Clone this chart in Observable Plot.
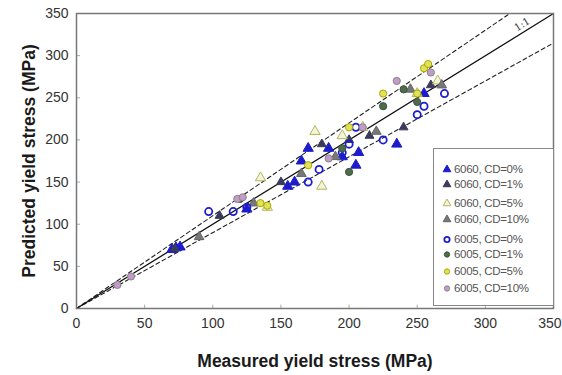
<!DOCTYPE html>
<html><head><meta charset="utf-8">
<script src="https://cdn.jsdelivr.net/npm/d3@7"></script>
<script src="https://cdn.jsdelivr.net/npm/@observablehq/plot@0.6"></script>
<style>
body{margin:0;background:#fff;}
#wrap{position:relative;width:562px;height:375px;overflow:hidden;}
g[aria-label="x-axis label"] text, g[aria-label="y-axis label"] text{font-weight:bold;font-size:17.5px;fill:#1a1a1a;}
#legend{position:absolute;left:433px;top:148px;width:121px;height:158px;border:1px solid #888;background:#fff;box-sizing:border-box;font-family:Arial,"Liberation Sans",sans-serif;font-size:11.5px;color:#555;}
#legend .row{position:absolute;left:8px;height:14px;display:flex;align-items:center;white-space:nowrap;letter-spacing:-0.3px;}
#legend svg{margin-right:2px;}
</style></head>
<body><div id="wrap"><div id="chart"></div><div id="legend"></div></div>
<script>
const seriesNames = ["6060, CD=0%","6060, CD=1%","6060, CD=5%","6060, CD=10%","6005, CD=0%","6005, CD=1%","6005, CD=5%","6005, CD=10%"];
const xTicks = [0,50,100,150,200,250,300,350];
const yTicks = [0,50,100,150,200,250,300,350];
// measured, predicted
const s6060cd0 = [[70,70],[73,72],[76,73],[125,118],[155,145],[160,150],[165,175],[170,190],[185,190],[195,180],[205,170],[207,185],[235,195],[255,255]];
const s6060cd1 = [[72,71],[105,110],[150,150],[180,195],[200,200],[215,205],[240,215],[260,265]];
const s6060cd5 = [[135,155],[140,120],[175,210],[180,145],[195,205],[210,215],[250,255],[265,270]];
const s6060cd10 = [[90,85],[130,125],[165,160],[190,180],[220,210],[245,260],[268,265]];
const s6005cd0 = [[97,115],[115,115],[125,120],[170,150],[178,165],[195,185],[200,195],[205,215],[225,200],[250,230],[255,240],[270,255]];
const s6005cd1 = [[120,130],[195,190],[200,162],[225,240],[240,260],[250,245]];
const s6005cd5 = [[135,125],[140,122],[170,170],[200,215],[225,255],[250,255],[255,285],[258,290]];
const s6005cd10 = [[30,28],[40,38],[118,130],[122,132],[185,178],[210,215],[235,270],[260,280]];
const oneToOne = [[0,0],[350,350]];
const upper10 = [[0,0],[318,350]];
const lower10 = [[0,0],[350,315]];
const lineLabel = [{x:327,y:337,t:"1:1"}];

const styles = [
  {symbol:"triangle", fill:"#1c1ccc", stroke:"#1c1ccc", r:3.8},
  {symbol:"triangle", fill:"#3a3a5a", stroke:"#3a3a5a", r:3.3},
  {symbol:"triangle", fill:"#f4f4d8", stroke:"#b4b460", r:3.8},
  {symbol:"triangle", fill:"#777", stroke:"#666", r:3.6},
  {symbol:"circle", fill:"none", stroke:"#1c1cd0", r:3.6, sw:1.8},
  {symbol:"circle", fill:"#4d6b4d", stroke:"#3e563e", r:3.6},
  {symbol:"circle", fill:"#e2e25a", stroke:"#a8a800", r:3.6},
  {symbol:"circle", fill:"#c49ac8", stroke:"#888", r:3.6}
];
const allSeries = [s6060cd0,s6060cd1,s6060cd5,s6060cd10,s6005cd0,s6005cd1,s6005cd5,s6005cd10];

const dotMarks = allSeries.map((s,i)=>Plot.dot(s.map(d=>({x:d[0],y:d[1]})),{
  x:"x", y:"y", symbol: styles[i].symbol, r: styles[i].r, fill: styles[i].fill, stroke: styles[i].stroke, strokeWidth: styles[i].sw || 1
}));

const chart = Plot.plot({
  width:562, height:375,
  marginLeft:76, marginRight:9, marginTop:13, marginBottom:67,
  style:{fontFamily:"Arial, 'Liberation Sans', sans-serif", fontSize:"14px", color:"#333", background:"#fff"},
  x:{domain:[0,350], ticks:xTicks, tickSize:0, tickPadding:10, label:"Measured yield stress (MPa)", labelAnchor:"center", labelOffset:58, labelArrow:"none"},
  y:{domain:[0,350], ticks:yTicks, tickSize:0, tickPadding:8, label:"Predicted yield stress (MPa)", labelAnchor:"center", labelOffset:54, labelArrow:"none"},
  marks:[
    Plot.ruleX(xTicks, {x:d=>d, y1:0, y2:4, stroke:"#aaa"}),
    Plot.ruleY(yTicks, {y:d=>d, x1:0, x2:3, stroke:"#aaa"}),
    Plot.line(upper10.map(d=>({x:d[0],y:d[1]})), {x:"x", y:"y", stroke:"#222", strokeWidth:1.1, strokeDasharray:"4,3"}),
    Plot.line(lower10.map(d=>({x:d[0],y:d[1]})), {x:"x", y:"y", stroke:"#222", strokeWidth:1.1, strokeDasharray:"4,3"}),
    Plot.line(oneToOne.map(d=>({x:d[0],y:d[1]})), {x:"x", y:"y", stroke:"#111", strokeWidth:1.3}),
    Plot.text(lineLabel, {x:"x", y:"y", text:"t", rotate:-31.7, fontFamily:"'DejaVu Serif', serif", fontSize:10, fill:"#333"}),
    ...dotMarks,
    Plot.frame({stroke:"#777", strokeWidth:1.5})
  ]
});
document.getElementById("chart").appendChild(chart);

// keep the last x tick label inside the picture
d3.select(chart).selectAll('g[aria-label="x-axis tick label"] text')
  .filter(function(){ return this.textContent === "350"; })
  .attr("text-anchor", "end").attr("dx", 8);

// legend
const leg = document.getElementById("legend");
const rowY = [13,28,47,63,83,98,115,132];
seriesNames.forEach((name,i)=>{
  const st = styles[i];
  const row = document.createElement("div");
  row.className = "row";
  row.style.top = (rowY[i]) + "px";
  const svg = d3.create("svg").attr("width",10).attr("height",10);
  const sym = st.symbol === "triangle" ? d3.symbolTriangle : d3.symbolCircle;
  const size = st.symbol === "triangle" ? 26 : 22;
  svg.append("path").attr("d", d3.symbol(sym, size)()).attr("transform","translate(5,5.5)")
    .attr("fill", st.fill).attr("stroke", st.stroke).attr("stroke-width", st.sw || 1);
  row.appendChild(svg.node());
  const span = document.createElement("span");
  span.textContent = name;
  row.appendChild(span);
  leg.appendChild(row);
});
</script></body></html>
